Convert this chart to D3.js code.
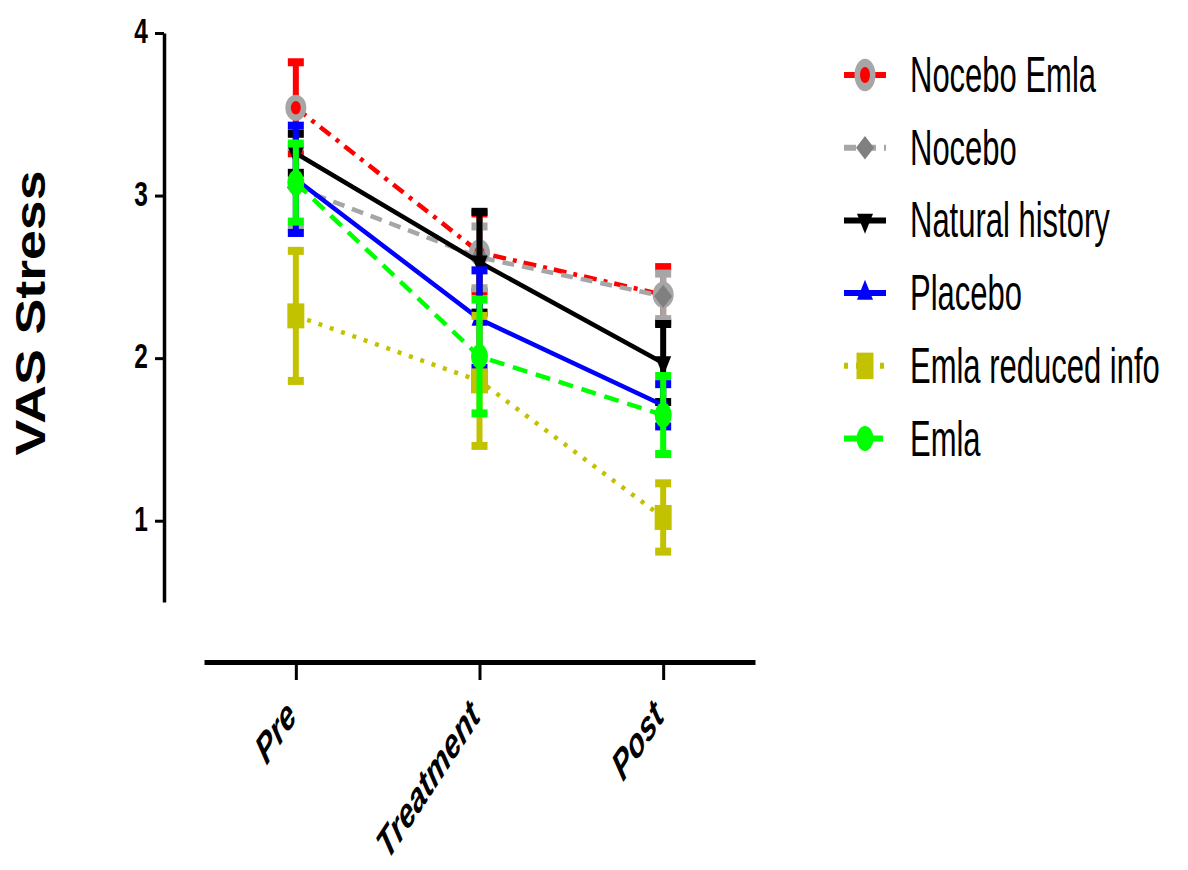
<!DOCTYPE html>
<html>
<head>
  <title>VAS Stress</title>
  <script src="https://d3js.org/d3.v7.min.js"></script>
  <style>
    body { margin: 0; background: #fff; }
    text { font-family: "Liberation Sans", Arial, sans-serif; }
  </style>
</head>
<body>
  <svg id="chart"></svg>
  <script>
    // Data (mean and SEM per timepoint)
    const timepoints = ["Pre", "Treatment", "Post"];
    const seriesNames = ["Nocebo Emla", "Nocebo", "Natural history", "Placebo", "Emla reduced info", "Emla"];
    const yTicks = [1, 2, 3, 4];

    const noceboEmlaMean = [3.54, 2.65, 2.39];
    const noceboEmlaSem  = [0.28, 0.24, 0.17];
    const noceboMean     = [3.05, 2.62, 2.38];
    const noceboSem      = [0.25, 0.19, 0.14];
    const naturalMean    = [3.26, 2.59, 1.97];
    const naturalSem     = [0.12, 0.31, 0.24];
    const placeboMean    = [3.10, 2.24, 1.71];
    const placeboSem     = [0.33, 0.30, 0.13];
    const reducedMean    = [2.26, 1.86, 1.02];
    const reducedSem     = [0.40, 0.40, 0.21];
    const emlaMean       = [3.08, 2.01, 1.65];
    const emlaSem        = [0.24, 0.35, 0.24];

    const means = [noceboEmlaMean, noceboMean, naturalMean, placeboMean, reducedMean, emlaMean];
    const sems  = [noceboEmlaSem, noceboSem, naturalSem, placeboSem, reducedSem, emlaSem];

    // styles per series (same order as seriesNames)
    const styles = [
      {color: "#ff0000", dash: "13,7,4,7", marker: "noceboEmla"},
      {color: "#a6a6a6", dash: "12,8",     marker: "diamond"},
      {color: "#000000", dash: null,       marker: "down"},
      {color: "#0000ff", dash: null,       marker: "up"},
      {color: "#c2c200", dash: "4,8",      marker: "square"},
      {color: "#00ff00", dash: "15,9",     marker: "circle"}
    ];

    const series = seriesNames.map((name, i) => ({
      name: name,
      style: styles[i],
      values: timepoints.map((t, j) => ({t: t, mean: means[i][j], sem: sems[i][j]}))
    }));

    const W = 1188, H = 870;
    const svg = d3.select("#chart").attr("width", W).attr("height", H);

    const x = d3.scalePoint().domain(timepoints).range([204, 755]).padding(0.5);
    const y = d3.scaleLinear().domain([0.5, 4]).range([602, 33]);

    // Y axis
    const yAxisG = svg.append("g")
      .attr("transform", "translate(164,0)")
      .call(d3.axisLeft(y).tickValues(yTicks).tickFormat(d3.format("d")).tickSize(9).tickSizeOuter(0));
    yAxisG.select(".domain").attr("stroke-width", 3.5);
    yAxisG.selectAll(".tick line").attr("stroke-width", 3);
    yAxisG.selectAll(".tick text")
      .attr("x", -23)
      .attr("dy", "0.28em")
      .attr("font-size", 35)
      .attr("font-weight", "bold")
      .attr("font-family", "'Liberation Sans', Arial, sans-serif")
      .attr("transform", "scale(0.7,1)");

    // X axis
    const xAxisG = svg.append("g")
      .attr("transform", "translate(0,662)")
      .call(d3.axisBottom(x).tickSize(18).tickSizeOuter(0));
    xAxisG.select(".domain").attr("stroke-width", 5);
    xAxisG.selectAll(".tick line").attr("stroke-width", 3);
    xAxisG.selectAll(".tick text").remove();

    svg.selectAll(".xlabel")
      .data(timepoints)
      .enter().append("text")
      .attr("class", "xlabel")
      .attr("transform", d => `translate(${x(d) + 2},718) scale(1,1.53) rotate(-45)`)
      .attr("text-anchor", "end")
      .style("font-size", "27.5px")
      .style("font-weight", "bold")
      .style("font-style", "italic")
      .text(d => d);

    // Y axis title
    svg.append("text")
      .attr("transform", "translate(45,313) rotate(-90)")
      .attr("text-anchor", "middle")
      .attr("textLength", 285)
      .attr("lengthAdjust", "spacingAndGlyphs")
      .style("font-size", "42px")
      .style("font-weight", "bold")
      .text("VAS Stress");

    // marker drawing helper
    function drawMarker(g, kind, color, cx, cy, big) {
      const sym = (type, size, sx, sy, fill, rot) => g.append("path")
        .attr("d", d3.symbol().type(type).size(size)())
        .attr("transform", `translate(${cx},${cy}) scale(${sx},${sy})` + (rot ? ` rotate(${rot})` : ""))
        .attr("fill", fill);
      if (kind === "noceboEmla") {
        sym(d3.symbolCircle, Math.PI * 10.5 * 10.5, 1, big ? 1.55 : 1.25, "#a6a6a6");
        sym(d3.symbolCircle, Math.PI * 5 * 5, 1, big ? 1.6 : 1.35, "#ff0000");
      } else if (kind === "diamond") {
        sym(d3.symbolDiamond, 280, 1, 0.75, "#808080");
      } else if (kind === "down") {
        sym(d3.symbolTriangle, 111, 1, 1.45, color, 180);
      } else if (kind === "up") {
        sym(d3.symbolTriangle, 111, 1, 1.45, color);
      } else if (kind === "square") {
        sym(d3.symbolSquare, 289, 1, big ? 1.55 : 1.47, color);
      } else if (kind === "circle") {
        sym(d3.symbolCircle, Math.PI * 8.5 * 8.5, 1, 1.47, color);
      }
    }

    const line = d3.line().x(d => x(d.t)).y(d => y(d.mean));

    // series, drawn in legend order
    series.forEach(s => {
      const g = svg.append("g").attr("class", "series");
      g.append("path")
        .datum(s.values)
        .attr("d", line)
        .attr("fill", "none")
        .attr("stroke", s.style.color)
        .attr("stroke-width", 4.5)
        .attr("stroke-dasharray", s.style.dash);

      const eb = g.selectAll(".eb").data(s.values).enter().append("g").attr("class", "eb");
      eb.append("line")
        .attr("x1", d => x(d.t)).attr("x2", d => x(d.t))
        .attr("y1", d => y(d.mean + d.sem)).attr("y2", d => y(d.mean - d.sem))
        .attr("stroke", s.style.color)
        .attr("stroke-width", 6);
      [1, -1].forEach(sign => {
        eb.append("rect")
          .attr("x", d => x(d.t) - 8)
          .attr("y", d => y(d.mean + sign * d.sem) - 4)
          .attr("width", 16)
          .attr("height", 8)
          .attr("fill", s.style.color);
      });

      s.values.forEach(d => drawMarker(g, s.style.marker, s.style.color, x(d.t), y(d.mean), false));
    });

    // Legend
    const legend = svg.selectAll(".legend")
      .data(series)
      .enter().append("g")
      .attr("class", "legend")
      .attr("transform", (d, i) => `translate(0,${75 + i * 72.7})`);

    legend.append("line")
      .attr("x1", 844).attr("x2", 886)
      .attr("y1", 0).attr("y2", 0)
      .attr("stroke", d => d.style.color)
      .attr("stroke-width", 6)
      .attr("stroke-dasharray", d => d.style.dash);

    legend.each(function(d) {
      drawMarker(d3.select(this), d.style.marker, d.style.color, 865, 0, true);
    });

    legend.append("text")
      .attr("transform", "translate(910,17) scale(0.62,1)")
      .style("font-size", "50px")
      .text(d => d.name);
  </script>
</body>
</html>
